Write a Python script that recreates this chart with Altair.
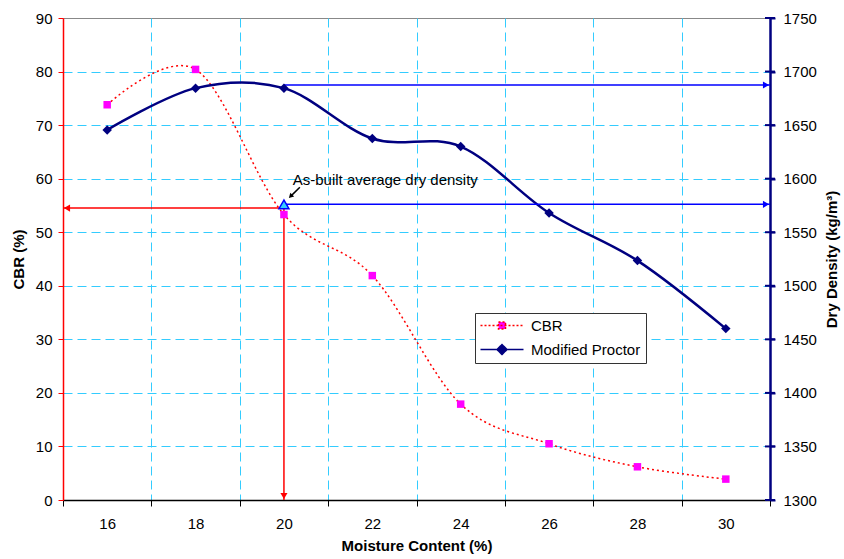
import altair as alt
import pandas as pd

# ---------------- data ----------------
moisture = [16, 18, 20, 22, 24, 26, 28, 30]
cbr = [73.8, 80.4, 53.3, 41.9, 17.9, 10.5, 6.2, 3.9]
dry_density = [1645.5, 1684.5, 1684.5, 1637.5, 1630.0, 1568.0, 1523.5, 1460.0]

series_names = ["CBR", "Modified Proctor"]

x_tick_values = [15, 17, 19, 21, 23, 25, 27, 29, 31]
x_label_values = [16, 18, 20, 22, 24, 26, 28, 30]
cbr_tick_values = [0, 10, 20, 30, 40, 50, 60, 70, 80, 90]
density_tick_values = [1300, 1350, 1400, 1450, 1500, 1550, 1600, 1650, 1700, 1750]

x_domain = [15, 31]
cbr_domain = [0, 90]
density_domain = [1300, 1750]

asbuilt_moisture = [20]
asbuilt_density = [1576]
asbuilt_cbr = [54.5]
mdd_density = [1687.5]

annotation_text = ["As-built average dry density"]
annotation_x = [20.2]
annotation_density = [1598.5]
pointer_x = [20.36, 20.15]
pointer_density = [1592.0, 1583.5]

# ---------------- styles ----------------
FONT = "Liberation Sans"
GRID = "#33CCFF"
RED = "#FF0000"
NAVY = "#000080"
BLUE = "#0000FF"
MAGENTA = "#FF00FF"
DASH = [9, 5]

df = pd.DataFrame({"moisture": moisture, "cbr": cbr, "density": dry_density})

red_h = pd.DataFrame({"x": asbuilt_moisture, "x2": [x_domain[0]], "y": asbuilt_cbr})
red_v = pd.DataFrame({"x": asbuilt_moisture, "y": asbuilt_cbr, "y2": [cbr_domain[0]]})
blue = pd.DataFrame({
    "x": asbuilt_moisture * 2,
    "x2": [x_domain[1]] * 2,
    "y": asbuilt_density + mdd_density,
})
tri = pd.DataFrame({"x": asbuilt_moisture, "y": asbuilt_density})
annot = pd.DataFrame({"x": annotation_x, "y": annotation_density, "t": annotation_text})
pointer = pd.DataFrame({
    "x": [pointer_x[0]], "x2": [pointer_x[1]],
    "y": [pointer_density[0]], "y2": [pointer_density[1]],
})
legend_df = pd.DataFrame({"series": series_names, "x": moisture[:2], "y": cbr[:2]})
rtick_df = pd.DataFrame({"x": [x_domain[1]] * len(density_tick_values), "y": density_tick_values})

xscale = alt.Scale(domain=x_domain, nice=False, zero=False)
yl_scale = alt.Scale(domain=cbr_domain, nice=False, zero=False)
yr_scale = alt.Scale(domain=density_domain, nice=False, zero=False)

ax_x_ticks = alt.Axis(
    orient="bottom", values=x_tick_values, labels=False, title=None,
    ticks=True, tickColor="black", tickSize=6, tickWidth=1,
    domain=True, domainColor="black", domainWidth=1.5,
    grid=True, gridColor=GRID, gridDash=DASH, gridWidth=1,
    gridOpacity={"condition": {"test": "datum.value <= 15 || datum.value >= 31", "value": 0}, "value": 1},
)
ax_x_labels = alt.Axis(
    orient="bottom", values=x_label_values, ticks=False, domain=False, grid=False,
    labelPadding=16, title="Moisture Content (%)", titlePadding=7,
    labelFontSize=15, titleFontSize=15,
)
ax_y_left = alt.Axis(
    orient="left", values=cbr_tick_values, title="CBR (%)",
    domainColor=RED, domainWidth=1.5, tickColor=RED, tickSize=5, tickWidth=1,
    labelPadding=6, titlePadding=9,
    grid=True, gridColor=GRID, gridDash=DASH, gridWidth=1,
    gridOpacity={"condition": {"test": "datum.value >= 90 || datum.value <= 0", "value": 0}, "value": 1},
)
ax_y_right = alt.Axis(
    orient="right", values=density_tick_values, format="d", title="Dry Density (kg/m³)",
    titleAngle=270, titleBaseline="top",
    domainColor=NAVY, domainWidth=2.5, tickColor=NAVY, tickSize=5, tickWidth=2,
    labelPadding=8, titlePadding=8, grid=False,
)

XG = lambda f: alt.X(f, scale=xscale, axis=ax_x_ticks)
XL = lambda f: alt.X(f, scale=xscale, axis=ax_x_labels)
YL = lambda f: alt.Y(f, scale=yl_scale, axis=ax_y_left)
YR = lambda f: alt.Y(f, scale=yr_scale, axis=ax_y_right)

# ---------------- left (CBR) group ----------------
cbr_line = alt.Chart(df).mark_line(
    color=RED, strokeWidth=1.5, strokeDash=[2, 3], interpolate="cardinal"
).encode(x=XG("moisture:Q"), y=YL("cbr:Q"))

red_h_rule = alt.Chart(red_h).mark_rule(color=RED, strokeWidth=1.5).encode(
    x=XG("x:Q"), x2="x2:Q", y=YL("y:Q"))
red_h_head = alt.Chart(red_h).mark_point(
    shape="triangle-left", filled=True, color=RED, size=50, opacity=1, xOffset=4
).encode(x=XG("x2:Q"), y=YL("y:Q"))
red_v_rule = alt.Chart(red_v).mark_rule(color=RED, strokeWidth=1.5).encode(
    x=XG("x:Q"), y=YL("y:Q"), y2="y2:Q")
red_v_head = alt.Chart(red_v).mark_point(
    shape="triangle-down", filled=True, color=RED, size=50, opacity=1, yOffset=-4
).encode(x=XG("x:Q"), y=YL("y2:Q"))

cbr_pts = alt.Chart(df).mark_point(
    shape="square", filled=True, color=MAGENTA, size=56, opacity=1
).encode(x=XG("moisture:Q"), y=YL("cbr:Q"))

path_cbr = "M-1.75,0 L9,0 M2.75,-0.875 L4.5,-0.875 L4.5,0.875 L2.75,0.875 Z"
path_mp = "M-1.75,0 L9,0 M3.625,-1.25 L4.875,0 L3.625,1.25 L2.375,0 Z"

leg = alt.Legend(
    title=None, orient="none", legendX=412, legendY=295,
    fillColor="white", strokeColor="#333333", padding=5,
    labelFont=FONT, labelFontSize=15, labelColor="black",
    labelOffset=36, rowPadding=7, symbolSize=64,
)
legend_layer = alt.Chart(legend_df).transform_filter("false").mark_point(
    filled=True, size=64, strokeWidth=2, opacity=1
).encode(
    x=XG("x:Q"), y=YL("y:Q"),
    shape=alt.Shape("series:N", scale=alt.Scale(domain=series_names, range=[path_cbr, path_mp]), legend=leg),
    fill=alt.Fill("series:N", scale=alt.Scale(domain=series_names, range=[MAGENTA, NAVY]), legend=leg),
    stroke=alt.Stroke("series:N", scale=alt.Scale(domain=series_names, range=[RED, NAVY]), legend=leg),
    strokeDash=alt.StrokeDash("series:N", scale=alt.Scale(domain=series_names, range=[[2, 2], [1, 0]]), legend=leg),
)

left = alt.layer(cbr_line, red_h_rule, red_h_head, red_v_rule, red_v_head, cbr_pts, legend_layer)

# ---------------- right (density) group ----------------
mp_line = alt.Chart(df).mark_line(
    color=NAVY, strokeWidth=2.5, interpolate="cardinal"
).encode(x=XL("moisture:Q"), y=YR("density:Q"))

blue_rules = alt.Chart(blue).mark_rule(color=BLUE, strokeWidth=1.5).encode(
    x=XL("x:Q"), x2="x2:Q", y=YR("y:Q"))
blue_heads = alt.Chart(blue).mark_point(
    shape="triangle-right", filled=True, color=BLUE, size=50, opacity=1, xOffset=-4
).encode(x=XL("x2:Q"), y=YR("y:Q"))

mp_pts = alt.Chart(df).mark_point(
    shape="diamond", filled=True, color=NAVY, size=90, opacity=1
).encode(x=XL("moisture:Q"), y=YR("density:Q"))

tri_pt = alt.Chart(tri).mark_point(
    shape="triangle-up", filled=True, fill="#33CCFF", stroke=BLUE, strokeWidth=1.5, size=100, opacity=1
).encode(x=XL("x:Q"), y=YR("y:Q"))

annot_text = alt.Chart(annot).mark_text(
    align="left", baseline="middle", font=FONT, fontSize=15, color="black"
).encode(x=XL("x:Q"), y=YR("y:Q"), text="t:N")

pointer_rule = alt.Chart(pointer).mark_rule(color="black", strokeWidth=1.5).encode(
    x=XL("x:Q"), x2="x2:Q", y=YR("y:Q"), y2="y2:Q")
pointer_head = alt.Chart(pointer).mark_point(
    shape="triangle-up", filled=True, color="black", size=30, opacity=1, angle=225
).encode(x=XL("x2:Q"), y=YR("y2:Q"))

right_ticks = alt.Chart(rtick_df).mark_tick(
    orient="horizontal", size=10, thickness=2, color=NAVY, opacity=1
).encode(x=XL("x:Q"), y=YR("y:Q"))

right = alt.layer(mp_line, blue_rules, blue_heads, mp_pts, tri_pt, annot_text,
                  pointer_rule, pointer_head, right_ticks)

chart = alt.layer(left, right).resolve_scale(
    y="independent"
).resolve_axis(
    x="independent", y="independent"
).properties(
    width=707, height=482,
    padding={"left": 63, "top": 18, "right": 74, "bottom": 59},
    autosize="none",
).configure_view(
    stroke="#888888", strokeWidth=1
).configure_axis(
    labelFont=FONT, titleFont=FONT, labelFontSize=15, titleFontSize=15,
    labelColor="black", titleColor="black", titleFontWeight="bold",
).configure_legend(
    labelFont=FONT
)

chart.save("out.html", embed_options={"renderer": "svg", "actions": False})
